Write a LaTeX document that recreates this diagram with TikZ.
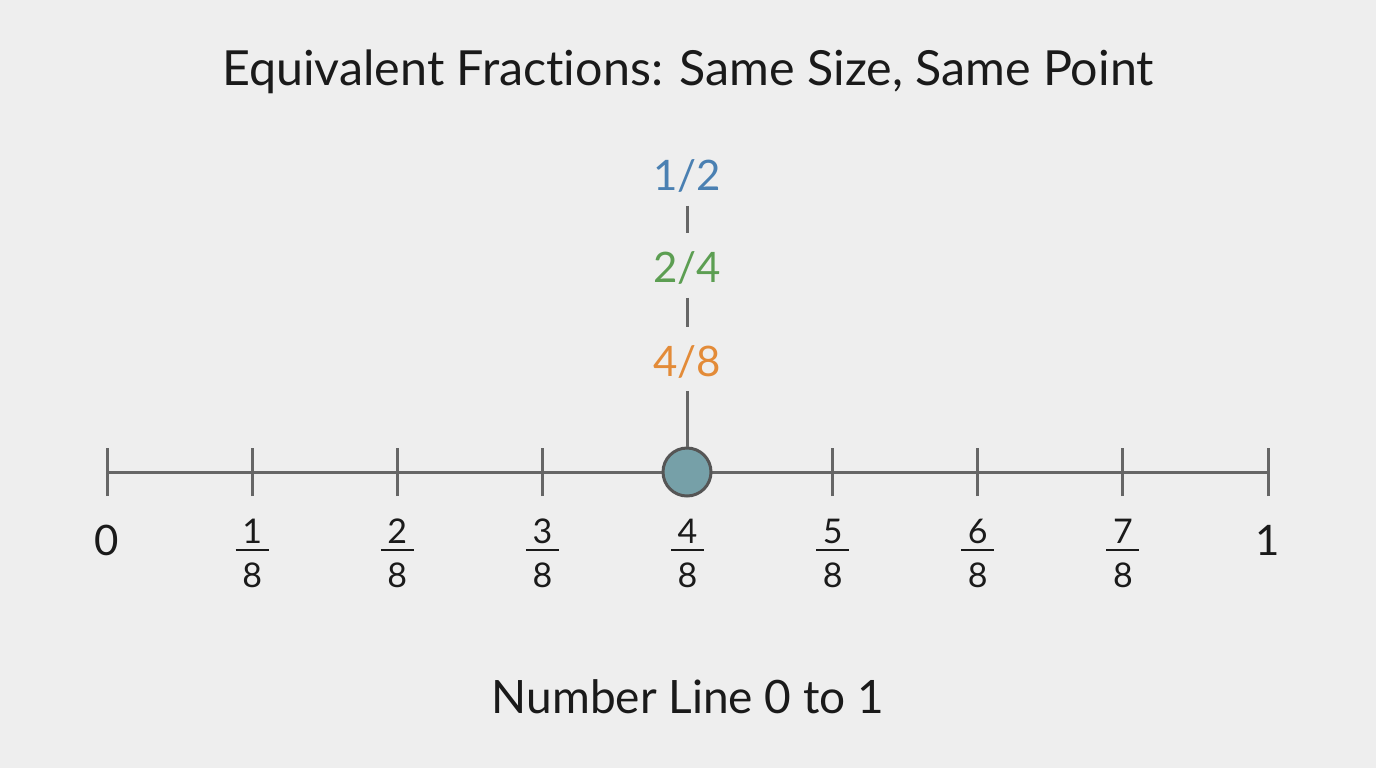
\documentclass[tikz,border=0pt]{standalone}
\usepackage{fontspec}
\setmainfont{Lato}[Ligatures=NoCommon]
\definecolor{bg}{HTML}{EEEEEE}
\definecolor{axis}{HTML}{666666}
\definecolor{dotfill}{HTML}{76A0A8}
\definecolor{dotline}{HTML}{555555}
\definecolor{cblue}{HTML}{4A80B2}
\definecolor{cgreen}{HTML}{5C9E52}
\definecolor{corange}{HTML}{E38B38}
\definecolor{ink}{HTML}{1A1A1A}
\begin{document}
\begin{tikzpicture}[x=0.5pt,y=-0.5pt,
  axisline/.style={draw=axis,line width=1.5pt},
  tick/.style={draw=axis,line width=1.5pt},
  ticklbl/.style={text=ink,font=\fontsize{17}{20}\selectfont,inner sep=0pt},
  fracbar/.style={draw=ink,line width=1.1pt},
  endlbl/.style={text=ink,font=\fontsize{21}{24}\selectfont,inner sep=0pt},
  eqlbl/.style={font=\fontsize{21}{24}\selectfont,inner sep=0pt},
  link/.style={draw=axis,line width=1.5pt},
  dot/.style={circle,draw=dotline,fill=dotfill,line width=1.5pt,minimum size=48*0.5pt,inner sep=0pt}]
\fill[bg] (0,0) rectangle (1376,768);
\useasboundingbox (0,0) rectangle (1376,768);
\node[text=ink,font=\fontsize{24.2}{28}\selectfont] (title) at (688,72) {Equivalent Fractions: Same Size, Same Point};
\coordinate (a0) at (107,472);
\coordinate (a8) at (1268,472);
\draw[axisline] (a0) -- (a8);
\foreach \i in {0,...,8} {
  \coordinate (t\i) at ({107+\i*145.125},472);
  \draw[tick] ([yshift=-24*0.5pt]t\i) -- ([yshift=24*0.5pt]t\i);
}
\node[endlbl] (l0) at (107,540) {0};
\node[endlbl] (l8) at (1268,540) {1};
\foreach \i in {1,...,7} {
  \node[ticklbl] (n\i) at ({107+\i*145.125},531) {\i};
  \node[ticklbl] (d\i) at ({107+\i*145.125},575) {8};
  \coordinate (bl\i) at ({107+\i*145.125-16.5},550);
  \coordinate (br\i) at ({107+\i*145.125+16.5},550);
  \draw[fracbar] (bl\i) -- (br\i);
}
\node[dot] (pt) at (687,472) {};
\node[eqlbl,text=cblue] (e1) at (687,176) {1/2};
\node[eqlbl,text=cgreen] (e2) at (687,268) {2/4};
\node[eqlbl,text=corange] (e3) at (687,362) {4/8};
\draw[link] ([yshift=-13*0.5pt]e1.south) -- ([yshift=18*0.5pt]e2.north);
\draw[link] ([yshift=-13*0.5pt]e2.south) -- ([yshift=18*0.5pt]e3.north);
\draw[link] ([yshift=-12*0.5pt]e3.south) -- (pt.north);
\node[text=ink,font=\fontsize{23}{26}\selectfont] (cap) at (688,697) {Number Line 0 to 1};
\end{tikzpicture}
\end{document}
